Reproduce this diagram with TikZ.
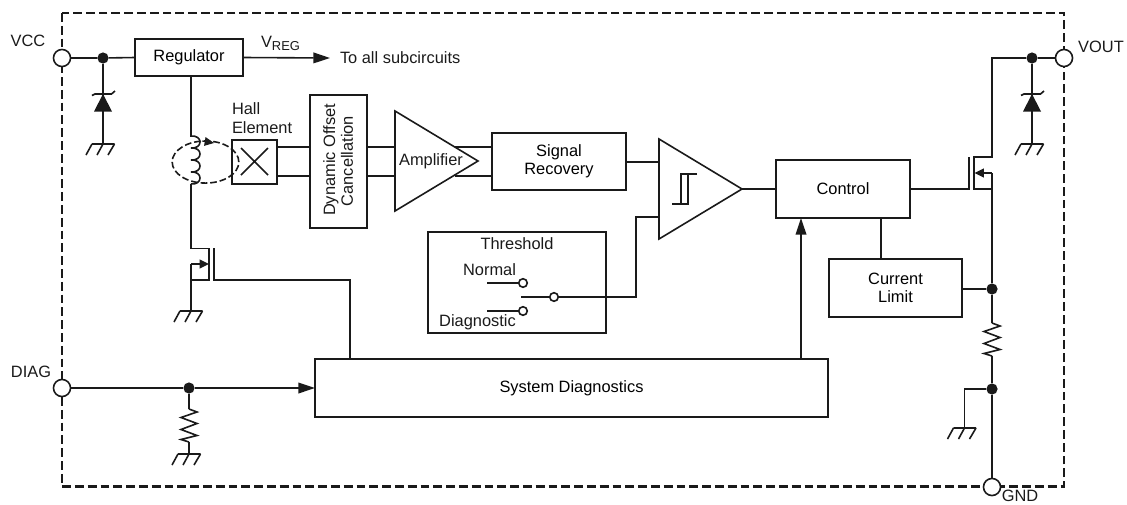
\documentclass[tikz,border=0pt]{standalone}
\usepackage{fontspec}
\setmainfont{Liberation Sans}
\usetikzlibrary{arrows.meta,calc}
\definecolor{ink}{HTML}{1A1A1A}
\newcommand\blockbox[6]{%
  \pgfmathsetmacro\bw{(#4-#2)*0.75}\pgfmathsetmacro\bh{(#5-#3)*0.75}%
  \pgfmathsetmacro\bx{(#2+#4)/2}\pgfmathsetmacro\by{(#3+#5)/2}%
  \node[blk,minimum width=\bw pt,minimum height=\bh pt] (#1) at (\bx,\by) {#6};}
\tikzset{
  x=0.75pt,y=-0.75pt,
  wire/.style={line width=1.2pt,draw=ink,line join=miter},
  blk/.style={draw=ink,line width=1.2pt,inner sep=0pt,outer sep=0pt,fill=white,align=center,font=\lbl},
  lbl/.style={inner sep=0pt,outer sep=0pt,text=ink,align=center,font=\lbl},
  pin/.style={circle,draw=ink,line width=1.2pt,fill=white,minimum size=12.8pt,inner sep=0pt,outer sep=0pt},
  dotj/.style={circle,fill=ink,minimum size=8.4pt,inner sep=0pt,outer sep=0pt},
  swpt/.style={circle,draw=ink,line width=1.2pt,fill=white,minimum size=6.4pt,inner sep=0pt,outer sep=0pt},
  head/.style={-{Triangle[length=12.5pt,width=8pt]}},
  smallhead/.style={-{Triangle[length=7pt,width=6.5pt]}},
  gndsym/.pic={
    \draw[wire] (-11,0)--(11.5,0) (-11,0)--(-17,11) (0,0)--(-6,11) (11.5,0)--(5,11);
  },
  zener/.pic={
    \fill[ink] (0,0)--(-9,17.5)--(9,17.5)--cycle;
    \draw[wire] (-11,1.5)--(-8,0)--(8.5,0)--(12,-3);
  },
  resist/.pic={
    \draw[wire] (0,0)--(8,3)--(-8,8.5)--(8,14.5)--(-8,20.5)--(8,26.5)--(-8,30.5)--(0,33);
  }
}
\newcommand\lbl{\fontsize{12.3}{14}\selectfont}
\begin{document}
\begin{tikzpicture}
\path[use as bounding box] (0,0) rectangle (1127,504);
% package outline
\coordinate (tl) at (62,13); \coordinate (br) at (1064,486.5);
\draw[line width=1.6pt,draw=ink,dash pattern=on 6.6pt off 3pt] (tl) rectangle (br);
% pins
\node[pin] (vcc) at (62,58) {};
\node[pin] (diag) at (62,388) {};
\node[pin] (vout) at (1064,58) {};
\node[pin] (gnd) at (992,487) {};
\node[lbl] (tvcc) at (28,41) {VCC};
\node[lbl] (tdiag) at (31,372) {DIAG};
\node[lbl] (tvout) at (1101,47) {VOUT};
\node[lbl] (tgnd) at (1020,495.5) {GND};
% junctions
\node[dotj] (j1) at (103,58) {};
\node[dotj] (j2) at (1032,58) {};
\node[dotj] (j3) at (189,388) {};
\node[dotj] (j4) at (992,289) {};
\node[dotj] (j5) at (992,389) {};
% blocks
\blockbox{reg}{135}{39}{243}{76}{Regulator}
\blockbox{hall}{232}{140}{277}{184}{}
\blockbox{dyn}{310}{95}{367}{228}{}
\blockbox{sig}{492}{133}{626}{190}{Signal\\[-0.5pt]Recovery}
\blockbox{ctl}{776}{160}{910}{218}{Control}
\blockbox{thr}{428}{232}{606}{333}{}
\blockbox{lim}{829}{259}{962}{317}{Current\\[-0.5pt]Limit}
\blockbox{sys}{315}{359}{828}{417}{System Diagnostics}
% block texts
\node[lbl,rotate=90] (tdyn1) at (331,160) {Dynamic Offset};
\node[lbl,rotate=90] (tdyn2) at (347,161) {Cancellation};
\node[lbl,anchor=west] (thall1) at (232,108.5) {Hall};
\node[lbl,anchor=west] (thall2) at (232,127.5) {Element};
\node[lbl,anchor=base west] (tvreg) at (261,47) {V\raisebox{-2.8pt}{\fontsize{9.7}{10}\selectfont REG}};
\node[lbl,anchor=west] (tall) at (340,58) {To all subcircuits};
\node[lbl] (tthr) at (517,244) {Threshold};
\node[lbl] (tnorm) at (489.5,270) {Normal};
\node[lbl] (tdia) at (477.5,322) {Diagnostic};
% hall X
\draw[wire] (241,148)--(268,175) (268,148)--(241,175);
% triangles
\coordinate (a1) at (395,111); \coordinate (a2) at (395,211); \coordinate (a3) at (478,161);
\draw[wire] (a1)--(a2)--(a3)--cycle;
\node[lbl] (tamp) at (431,161) {Amplifier};
\coordinate (c1) at (659,139); \coordinate (c2) at (659,239); \coordinate (c3) at (742,189);
\draw[wire] (c1)--(c2)--(c3)--cycle;
% hysteresis symbol
\draw[wire] (672,204)--(688,204)--(688,174)--(697,174) (697,174)--(681,174)--(681,204);
% top rail
\draw[wire] (vcc)--(j1)--(reg.west);
\coordinate (vregend) at (330,58);
\draw[wire,head] (reg.east)--(vregend);
% left zener
\coordinate (zl) at (103,94); \coordinate (gl) at (103,144);
\draw[wire] (j1)--(gl);
\pic at (zl) {zener};
\pic at (gl) {gndsym};
% regulator to coil
\coordinate (coilT) at (191,136); \coordinate (coilB) at (191,184);
\draw[wire] (reg.south -| coilT)--(coilT)
  .. controls (203,135) and (203,149) .. (191,148)
  .. controls (203,147) and (203,161) .. (191,160)
  .. controls (203,159) and (203,173) .. (191,172)
  .. controls (203,171) and (203,185) .. (191,184);
% magnetic loop
\coordinate (loopc) at (205.5,162);
\draw[wire,dash pattern=on 5pt off 2.2pt] (loopc) ellipse [x radius=25pt,y radius=15.8pt];
\coordinate (la) at (202,141); \coordinate (lb) at (214,143);
\draw[line width=0.8pt,draw=ink,smallhead] (la)--(lb);
% switch FET
\coordinate (m1) at (191,188); \coordinate (m2) at (191,248.5); \coordinate (m3) at (209,248.5);
\coordinate (m4) at (209,280); \coordinate (m5) at (191,280); \coordinate (m6) at (191,264);
\coordinate (m7) at (209,264); \coordinate (gb) at (191,311);
\draw[wire] (coilB)--(m2)--(m3)--(m4)--(m5);
\draw[wire] (m5)--(m6);
\draw[wire,smallhead] (m6)--(m7);
\draw[wire] (m5)--(gb);
\pic at (gb) {gndsym};
\coordinate (g1) at (214,248); \coordinate (g2) at (214,280); \coordinate (g3) at (350,280);
\draw[wire] (g1)--(g2)--(g3)--(g3 |- sys.north);
% signal chain
\draw[wire] (277,147)--(310,147) (277,176)--(310,176);
\draw[wire] (367,147)--(395,147) (367,176)--(395,176);
\draw[wire] (455,147)--(492,147) (455,176)--(492,176);
\draw[wire] (626,162)--(659,162);
\draw[wire] (c3)--(ctl.west |- c3);
% threshold switch
\node[swpt] (sw1) at (523,283) {};
\node[swpt] (sw2) at (523,311) {};
\node[swpt] (sw3) at (554,297) {};
\coordinate (s1) at (487,283); \coordinate (s2) at (487,311); \coordinate (s3) at (521,297);
\coordinate (s4) at (636,297); \coordinate (s5) at (636,217); \coordinate (s6) at (659,217);
\draw[wire] (s1)--(sw1);
\draw[wire] (s2)--(sw2);
\draw[wire] (s3)--(sw3);
\draw[wire] (sw3)--(s4)--(s5)--(s6);
% diagnostics
\draw[wire] (diag)--(j3);
\draw[wire,head] (j3)--(sys.west |- j3);
\coordinate (rd) at (189,409); \coordinate (rdb) at (189,442); \coordinate (gd) at (189,454);
\draw[wire] (j3)--(rd);
\pic at (rd) {resist};
\draw[wire] (rdb)--(gd);
\pic at (gd) {gndsym};
\coordinate (up) at (801,359);
\draw[wire,head] (up)--(up |- ctl.south);
% control to limit
\coordinate (cl) at (881,218);
\draw[wire] (cl)--(cl |- lim.north);
\draw[wire] (lim.east |- j4)--(j4);
% output FET
\coordinate (o1) at (969,157); \coordinate (o2) at (969,189);
\coordinate (o3) at (974,157); \coordinate (o4) at (974,189);
\coordinate (o5) at (992,157); \coordinate (o6) at (992,189);
\coordinate (o7) at (992,173); \coordinate (o8) at (992,58); \coordinate (o9) at (974.5,173);
\draw[wire] (ctl.east |- o2)--(o2)--(o1);
\draw[wire] (vout)--(j2)--(o8)--(o5)--(o3)--(o4)--(o6)--(o7);
\draw[wire,smallhead] (o7)--(o9);
\draw[wire] (o6)--(j4);
\coordinate (rr) at (992,323); \coordinate (rrb) at (992,356);
\draw[wire] (j4)--(rr);
\pic at (rr) {resist};
\draw[wire] (rrb)--(j5);
\draw[wire] (j5)--(gnd);
% right zener
\coordinate (zr) at (1032,94); \coordinate (gr) at (1032,144);
\draw[wire] (j2)--(gr);
\pic at (zr) {zener};
\pic at (gr) {gndsym};
% return ground
\coordinate (rg1) at (964.5,389); \coordinate (rg2) at (964.5,428);
\draw[wire] (j5)--(rg1)--(rg2);
\pic at (rg2) {gndsym};
\end{tikzpicture}
\end{document}
